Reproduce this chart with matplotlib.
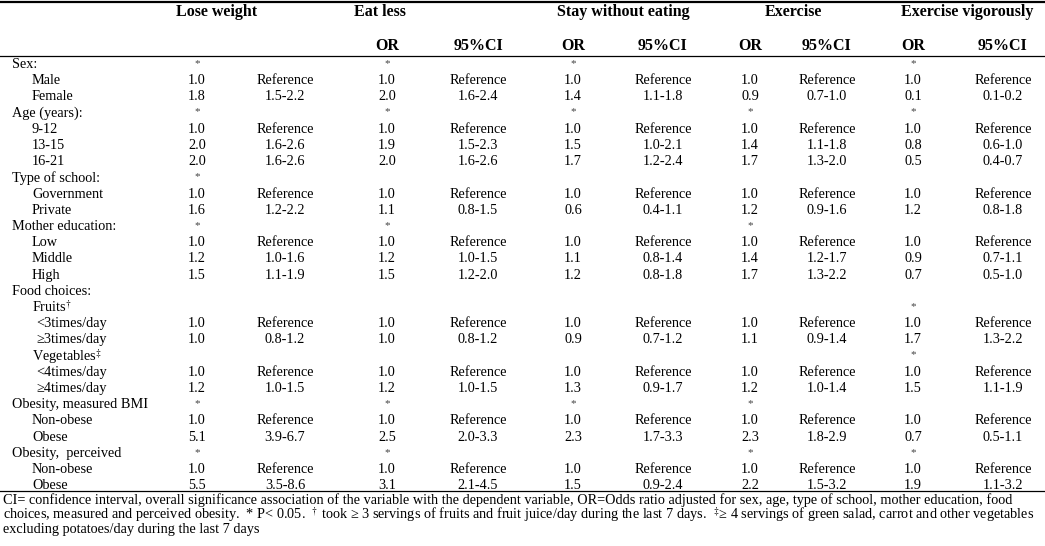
import matplotlib
matplotlib.use("Agg")
import matplotlib.pyplot as plt

plt.rcParams["font.family"] = ["Liberation Serif", "DejaVu Serif"]
plt.rcParams["mathtext.fontset"] = "stix"

# ── data ──────────────────────────────────────────────────────────────────────
groups = ["Lose weight", "Eat less", "Stay without eating", "Exercise",
          "Exercise vigorously"]

row_labels = ["Sex:", "Male", "Female", "Age (years):", "9-12", "13-15", "16-21",
              "Type of school:", "Government", "Private", "Mother education:",
              "Low", "Middle", "High", "Food choices:", r"Fruits$^{\dagger}$",
              "<3times/day", "\u22653times/day", r"Vegetables$^{\ddagger}$",
              "<4times/day", "\u22654times/day", "Obesity, measured BMI",
              "Non-obese", "Obese", "Obesity,  perceived", "Non-obese", "Obese"]
row_level = [0, 1, 1, 0, 1, 1, 1, 0, 1, 1, 0, 1, 1, 1, 0, 1, 2, 2, 1, 2, 2,
             0, 1, 1, 0, 1, 1]

R = "Reference"
lose_or = ["*", "1.0", "1.8", "*", "1.0", "2.0", "2.0", "*", "1.0", "1.6", "*",
           "1.0", "1.2", "1.5", "", "", "1.0", "1.0", "", "1.0", "1.2", "*",
           "1.0", "5.1", "*", "1.0", "5.5"]
lose_ci = ["", R, "1.5-2.2", "", R, "1.6-2.6", "1.6-2.6", "", R, "1.2-2.2", "",
           R, "1.0-1.6", "1.1-1.9", "", "", R, "0.8-1.2", "", R, "1.0-1.5", "",
           R, "3.9-6.7", "", R, "3.5-8.6"]
eat_or = ["*", "1.0", "2.0", "*", "1.0", "1.9", "2.0", "", "1.0", "1.1", "*",
          "1.0", "1.2", "1.5", "", "", "1.0", "1.0", "", "1.0", "1.2", "*",
          "1.0", "2.5", "*", "1.0", "3.1"]
eat_ci = ["", R, "1.6-2.4", "", R, "1.5-2.3", "1.6-2.6", "", R, "0.8-1.5", "",
          R, "1.0-1.5", "1.2-2.0", "", "", R, "0.8-1.2", "", R, "1.0-1.5", "",
          R, "2.0-3.3", "", R, "2.1-4.5"]
stay_or = ["*", "1.0", "1.4", "*", "1.0", "1.5", "1.7", "", "1.0", "0.6", "",
           "1.0", "1.1", "1.2", "", "", "1.0", "0.9", "", "1.0", "1.3", "*",
           "1.0", "2.3", "", "1.0", "1.5"]
stay_ci = ["", R, "1.1-1.8", "", R, "1.0-2.1", "1.2-2.4", "", R, "0.4-1.1", "",
           R, "0.8-1.4", "0.8-1.8", "", "", R, "0.7-1.2", "", R, "0.9-1.7", "",
           R, "1.7-3.3", "", R, "0.9-2.4"]
ex_or = ["", "1.0", "0.9", "*", "1.0", "1.4", "1.7", "", "1.0", "1.2", "*",
         "1.0", "1.4", "1.7", "", "", "1.0", "1.1", "", "1.0", "1.2", "*",
         "1.0", "2.3", "*", "1.0", "2.2"]
ex_ci = ["", R, "0.7-1.0", "", R, "1.1-1.8", "1.3-2.0", "", R, "0.9-1.6", "",
         R, "1.2-1.7", "1.3-2.2", "", "", R, "0.9-1.4", "", R, "1.0-1.4", "",
         R, "1.8-2.9", "", R, "1.5-3.2"]
exv_or = ["*", "1.0", "0.1", "*", "1.0", "0.8", "0.5", "", "1.0", "1.2", "",
          "1.0", "0.9", "0.7", "", "*", "1.0", "1.7", "*", "1.0", "1.5", "",
          "1.0", "0.7", "*", "1.0", "1.9"]
exv_ci = ["", R, "0.1-0.2", "", R, "0.6-1.0", "0.4-0.7", "", R, "0.8-1.8", "",
          R, "0.7-1.1", "0.5-1.0", "", "", R, "1.3-2.2", "", R, "1.1-1.9", "",
          R, "0.5-1.1", "", R, "1.1-3.2"]

or_cols = [lose_or, eat_or, stay_or, ex_or, exv_or]
ci_cols = [lose_ci, eat_ci, stay_ci, ex_ci, exv_ci]
show_sub = [False, True, True, True, True]

footnote = [
    "CI= confidence interval, overall significance association of the variable "
    "with the dependent variable, OR=Odds ratio adjusted for sex, age, type of "
    "school, mother education, food",
    "choices, measured and perceived obesity.  * P< 0.05.  ${}^{\\dagger}$ took "
    "\u2265 3 servings of fruits and fruit juice/day during the last 7 days.  "
    "${}^{\\ddagger}$\u2265 4 servings of green salad, carrot and other vegetables",
    "excluding potatoes/day during the last 7 days",
]

# ── layout (pixel coordinates) ────────────────────────────────────────────────
W, H = 1045, 546
group_x = [217, 380, 623, 793, 967]
or_x = [197, 387, 573, 750, 913]
ci_x = [285, 478, 663, 827, 1003]
indent_x = [12, 32, 36]
row_y0, row_dy = 64.5, 16.2

fig = plt.figure(figsize=(W / 100, H / 100), dpi=100)
ax = fig.add_axes([0, 0, 1, 1])
ax.set_xlim(0, W)
ax.set_ylim(H, 0)
ax.axis("off")

fs = 10.3
ax.axhline(1.5, color="black", lw=1.6)
ax.axhline(55.5, color="black", lw=0.9)
ax.axhline(491, color="black", lw=0.9)

for g, x in zip(groups, group_x):
    ax.text(x, 12, g, ha="center", va="center", fontsize=11.5, fontweight="bold")
for i in range(len(groups)):
    if show_sub[i]:
        ax.text(or_x[i], 46, "OR", ha="center", va="center", fontsize=11.5,
                fontweight="bold")
        ax.text(ci_x[i], 46, "95%CI", ha="center", va="center", fontsize=11.5,
                fontweight="bold")

for r, (lab, lvl) in enumerate(zip(row_labels, row_level)):
    y = row_y0 + r * row_dy
    ax.text(indent_x[lvl], y, lab, ha="left", va="center", fontsize=fs)
    for i in range(len(groups)):
        v = or_cols[i][r]
        if v == "*":
            ax.text(or_x[i], y - 1, v, ha="center", va="center", fontsize=8,
                    color="#444444")
        elif v:
            ax.text(or_x[i], y, v, ha="center", va="center", fontsize=fs)
        c = ci_cols[i][r]
        if c:
            ax.text(ci_x[i], y, c, ha="center", va="center", fontsize=fs)

for k, line in enumerate(footnote):
    ax.text(3, 500 + k * 14.8, line, ha="left", va="center", fontsize=10.3)

fig.savefig("out.png", dpi=100)
